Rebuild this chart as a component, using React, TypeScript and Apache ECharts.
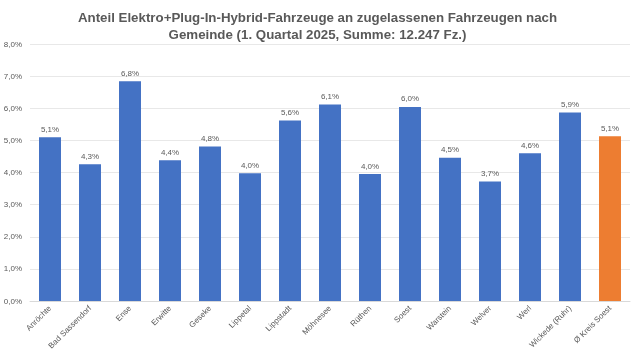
import React, { useEffect, useRef } from "react";
import * as echarts from "echarts";

const categories = ["Anröchte", "Bad Sassendorf", "Ense", "Erwitte", "Geseke", "Lippetal", "Lippstadt", "Möhnesee", "Rüthen", "Soest", "Warstein", "Welver", "Werl", "Wickede (Ruhr)", "Ø Kreis Soest"];
const values = [5.1, 4.26, 6.84, 4.38, 4.81, 3.98, 5.62, 6.12, 3.95, 6.04, 4.46, 3.72, 4.6, 5.87, 5.13];
const yTicks = [0, 1, 2, 3, 4, 5, 6, 7, 8];

const fmt = (v: number) => v.toFixed(1).replace(".", ",") + "%";

export default function App() {
  const ref = useRef<HTMLDivElement>(null);
  useEffect(() => {
    const chart = echarts.init(ref.current!, undefined, { renderer: "svg" });
    chart.setOption({
      animation: false,
      title: {
        text: "Anteil Elektro+Plug-In-Hybrid-Fahrzeuge an zugelassenen Fahrzeugen nach\nGemeinde (1. Quartal 2025, Summe: 12.247 Fz.)",
        left: "center",
        top: 4,
        textStyle: { fontFamily: "Liberation Sans", fontSize: 13.3, fontWeight: "bold", color: "#595959", lineHeight: 17 },
      },
      grid: { left: 30, right: 5, top: 44, bottom: 56 },
      xAxis: {
        type: "category",
        data: categories,
        axisTick: { show: false },
        axisLine: { lineStyle: { color: "#D9D9D9" } },
        axisLabel: { rotate: 45, fontSize: 8, color: "#595959", fontFamily: "Liberation Sans", interval: 0, margin: 6 },
      },
      yAxis: {
        type: "value",
        min: yTicks[0],
        max: yTicks[yTicks.length - 1],
        interval: 1,
        axisLabel: { fontSize: 8, color: "#595959", fontFamily: "Liberation Sans", formatter: (v: number) => fmt(v), margin: 8 },
        splitLine: { lineStyle: { color: "#E8E8E8" } },
      },
      series: [
        {
          type: "bar",
          barWidth: 22,
          data: values.map((v, i) => ({ value: v, itemStyle: { color: i === values.length - 1 ? "#ED7D31" : "#4472C4" } })),
          label: { show: true, position: "top", fontSize: 8, color: "#595959", fontFamily: "Liberation Sans", formatter: (p: any) => fmt(p.value), distance: 4 },
        },
      ],
    });
    return () => chart.dispose();
  }, []);
  return <div ref={ref} style={{ position: "fixed", left: 0, top: 0, width: 635, height: 357 }} />;
}
